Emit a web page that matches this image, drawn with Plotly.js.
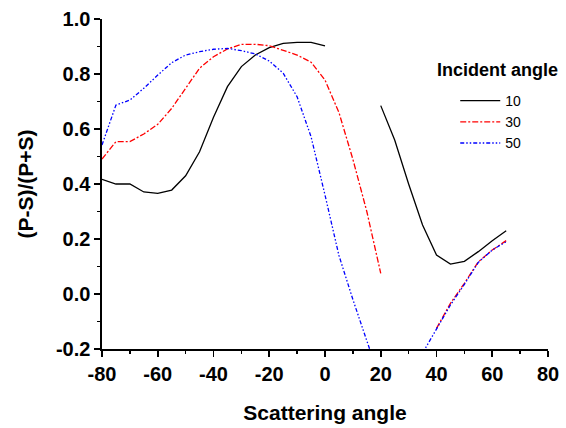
<!DOCTYPE html>
<html>
<head>
<meta charset="utf-8">
<script src="https://cdn.plot.ly/plotly-3.0.1.min.js"></script>
<style>html,body{margin:0;padding:0;background:#fff;}#chart{width:566px;height:428px;}</style>
</head>
<body>
<div id="chart"></div>
<script>
const angles = [-80,-75,-70,-65,-60,-55,-50,-45,-40,-35,-30,-25,-20,-15,-10,-5,0,5,10,15,20,25,30,35,40,45,50,55,60,65];
const inc10 = [0.417,0.400,0.400,0.371,0.366,0.378,0.430,0.517,0.643,0.754,0.827,0.869,0.896,0.911,0.915,0.915,0.902,null,null,null,0.685,0.560,0.400,0.251,0.142,0.109,0.119,0.154,0.194,0.230];
const inc30 = [0.491,0.554,0.554,0.582,0.617,0.675,0.748,0.821,0.863,0.891,0.908,0.908,0.903,0.887,0.869,0.843,0.778,0.660,0.490,0.300,0.075,null,null,null,-0.125,-0.034,0.039,0.117,0.160,0.194];
const inc50 = [0.542,0.687,0.705,0.748,0.796,0.841,0.869,0.881,0.890,0.893,0.885,0.873,0.847,0.803,0.717,0.572,0.360,0.140,-0.020,-0.167,-0.320,null,null,-0.215,-0.125,-0.040,0.035,0.115,0.160,0.190];
const seriesNames = ['10','30','50'];
const xTicks = [-80,-60,-40,-20,0,20,40,60,80];
const yTicks = [-0.2,0.0,0.2,0.4,0.6,0.8,1.0];

const F = 'Liberation Sans, Arial, sans-serif';
const traces = [
  {x: angles, y: inc10, name: seriesNames[0], mode: 'lines', connectgaps: false,
   line: {color: '#000000', width: 1.3}},
  {x: angles, y: inc30, name: seriesNames[1], mode: 'lines', connectgaps: false,
   line: {color: '#ff0000', width: 1.3, dash: '6px,2px,2px,2px'}},
  {x: angles, y: inc50, name: seriesNames[2], mode: 'lines', connectgaps: false,
   line: {color: '#0000ff', width: 1.3, dash: '4px,2px,1.5px,2px,1.5px,2px'}}
];
const axisCommon = {
  showgrid: false, zeroline: false, showline: true, linecolor: '#000', linewidth: 1.6,
  ticks: 'outside', ticklen: 6, tickwidth: 1.6, tickcolor: '#000',
  tickfont: {family: F, size: 20, color: '#000'}
};
const layout = {
  width: 566, height: 428,
  margin: {l: 102, r: 18, t: 19, b: 79},
  paper_bgcolor: '#fff', plot_bgcolor: '#fff',
  showlegend: true,
  xaxis: Object.assign({}, axisCommon, {
    range: [-80, 80], tickvals: xTicks, ticktext: xTicks.map(v => '<b>' + v + '</b>'),
    minor: {dtick: 10, tick0: 0, ticks: 'outside', ticklen: 3, tickwidth: 1.4, tickcolor: '#000'},
    title: {text: '<b>Scattering angle</b>', font: {family: F, size: 21, color: '#000'}, standoff: 22}
  }),
  yaxis: Object.assign({}, axisCommon, {
    range: [-0.2, 1.0], tickvals: yTicks, ticktext: yTicks.map(v => '<b>' + v.toFixed(1) + '</b>'),
    minor: {dtick: 0.1, tick0: 0, ticks: 'outside', ticklen: 3, tickwidth: 1.4, tickcolor: '#000'},
    title: {text: '<b>(P-S)/(P+S)</b>', font: {family: F, size: 21, color: '#000'}, standoff: 16}
  }),
  legend: {
    x: 0.792, xanchor: 'left', y: 0.80, yanchor: 'top',
    bgcolor: 'rgba(0,0,0,0)', borderwidth: 0,
    font: {family: F, size: 14, color: '#000'},
    itemwidth: 40, tracegroupgap: 0
  },
  annotations: [{
    text: '<b>Incident angle</b>', xref: 'paper', yref: 'paper',
    x: (435 - 102) / 446, xanchor: 'left', y: (349 - 70) / 330, yanchor: 'middle',
    showarrow: false, font: {family: F, size: 18, color: '#000'}
  }]
};
Plotly.newPlot('chart', traces, layout, {displayModeBar: false, staticPlot: true});
</script>
</body>
</html>
